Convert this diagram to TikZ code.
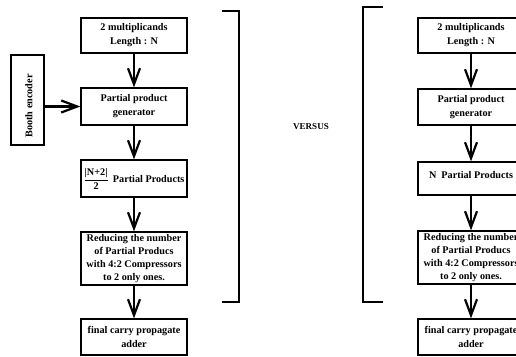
\documentclass[tikz,border=0pt]{standalone}
\usepackage{fontspec}
\setmainfont{Liberation Serif}
\usepackage{amsmath}
\usetikzlibrary{arrows.meta}
\begin{document}
\begin{tikzpicture}[x=1pt,y=-1pt,
  box/.style={draw,line width=1.3pt,minimum width=106pt,inner sep=0pt,align=center,
    font=\bfseries\fontsize{10.2}{14}\selectfont},
  txt/.style={align=center,inner sep=0pt,font=\bfseries\fontsize{10.2}{14}\selectfont},
  arr/.style={line width=2.4pt,-{Straight Barb[length=16pt,width=12pt,line width=2.2pt]}},
  brk/.style={line width=2.2pt}]
\useasboundingbox (0,0) rectangle (516,356);
\clip (0,0) rectangle (516,356);
% left column
\node[box,minimum height=35pt] (b1) at (134,35.5) {2 multiplicands\\Length : N};
\node[box,minimum height=37pt] (b2) at (134,106.5) {Partial product\\generator};
\node[box,minimum height=37pt] (b3) at (134,178.5) {};
\node[txt] (b3t) at (134,179) {$\displaystyle\frac{\text{\bfseries |N+2|}}{\text{\bfseries 2}}$\, Partial Products};
\node[box,minimum height=53pt,font=\bfseries\fontsize{10.2}{12.8}\selectfont] (b4) at (134,258.5) {Reducing the number\\of Partial Producs\\with 4:2 Compressors\\to 2 only ones.};
\node[box,minimum height=36pt] (b5) at (134,337) {final carry propagate\\adder};
% booth encoder
\node[box,minimum width=33pt,minimum height=90pt] (be) at (27.5,100) {};
\node[txt,rotate=90] (bet) at (29,106) {Booth encoder};
% right column
\node[box,minimum height=35pt] (r1) at (471,35.5) {2 multiplicands\\Length : N};
\node[box,minimum height=36pt] (r2) at (471,107) {Partial product\\generator};
\node[box,minimum height=33pt] (r3) at (471,178.5) {};
\node[txt,anchor=base] (r3t) at (471,178) {N\ \ Partial Products};
\node[box,minimum height=53pt,font=\bfseries\fontsize{10.2}{12.8}\selectfont] (r4) at (471,257.5) {Reducing the number\\of Partial Producs\\with 4:2 Compressors\\to 2 only ones.};
\node[box,minimum height=36pt] (r5) at (471,337) {final carry propagate\\adder};
% arrows
\draw[arr] (b1) -- (b2);
\draw[arr] (b2) -- (b3);
\draw[arr] (b3) -- (b4);
\draw[arr] (b4) -- (b5);
\draw[arr] (be.east |- b2.west) -- (b2.west);
\draw[arr] (r1) -- (r2);
\draw[arr] (r2) -- (r3);
\draw[arr] (r3) -- (r4);
\draw[arr] (r4) -- (r5);
% brackets
\coordinate (la) at (222,11);
\coordinate (lb) at (239,11);
\coordinate (lc) at (239,302);
\coordinate (ld) at (222,302);
\draw[brk] (la) -- (lb) -- (lc) -- (ld);
\coordinate (ra) at (383,7);
\coordinate (rb) at (363,7);
\coordinate (rc) at (363,302);
\coordinate (rd) at (383,302);
\draw[brk] (ra) -- (rb) -- (rc) -- (rd);
\node[txt,font=\bfseries\fontsize{9}{10}\selectfont] (vs) at (311,127) {VERSUS};
\end{tikzpicture}
\end{document}
